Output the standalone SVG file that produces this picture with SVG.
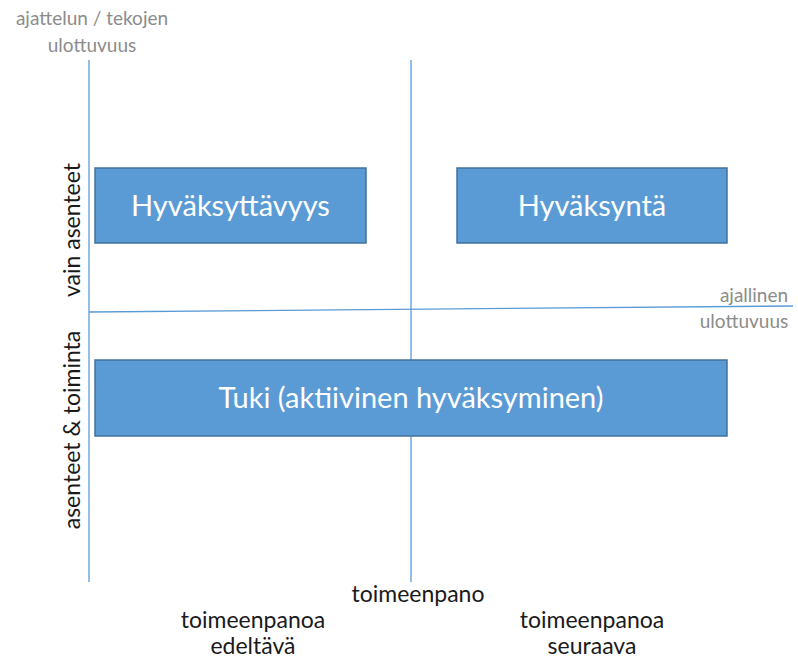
<svg xmlns="http://www.w3.org/2000/svg" width="798" height="659" viewBox="0 0 798 659">
<style>
.ax{stroke:#5B9BD5;stroke-width:1.3;fill:none}
.box{fill:#5B9BD5;stroke:#41719C;stroke-width:1.5}
.bt{fill:#fff;font-family:Lato,"Open Sans",sans-serif;font-size:29px;text-anchor:middle}
.gl{fill:#8C8C8C;font-family:Lato,"Open Sans",sans-serif;font-size:19px;text-anchor:middle}
.bl{fill:#1a1a1a;font-family:Lato,"Open Sans",sans-serif;font-size:23px;text-anchor:middle}
</style>
<rect width="798" height="659" fill="#fff"/>
<g id="connectors">
<line class="ax" x1="89" y1="60" x2="89" y2="582"/>
<line class="ax" x1="411" y1="60" x2="411" y2="582"/>
<line class="ax" x1="89" y1="312" x2="793" y2="306"/>
</g>
<g id="hyvaksyttavyys">
<rect class="box" x="95" y="168" width="271" height="75"/>
<text class="bt" x="230.5" y="216">Hyväksyttävyys</text>
</g>
<g id="hyvaksynta">
<rect class="box" x="457" y="168" width="270" height="75"/>
<text class="bt" x="592" y="216">Hyväksyntä</text>
</g>
<g id="tuki">
<rect class="box" x="95" y="360" width="632" height="76"/>
<text class="bt" x="411" y="408">Tuki (aktiivinen hyväksyminen)</text>
</g>
<g id="labels">
<text class="gl" x="92" y="25">ajattelun / tekojen</text>
<text class="gl" x="92" y="52">ulottuvuus</text>
<text class="gl" x="754" y="302">ajallinen</text>
<text class="gl" x="744" y="328">ulottuvuus</text>
<text class="bl" transform="translate(80,230) rotate(-90)">vain asenteet</text>
<text class="bl" transform="translate(80,430) rotate(-90)">asenteet &amp; toiminta</text>
<text class="bl" x="418" y="602">toimeenpano</text>
<text class="bl" x="253" y="628">toimeenpanoa</text>
<text class="bl" x="253" y="654">edeltävä</text>
<text class="bl" x="592" y="628">toimeenpanoa</text>
<text class="bl" x="592" y="654">seuraava</text>
</g>
</svg>
